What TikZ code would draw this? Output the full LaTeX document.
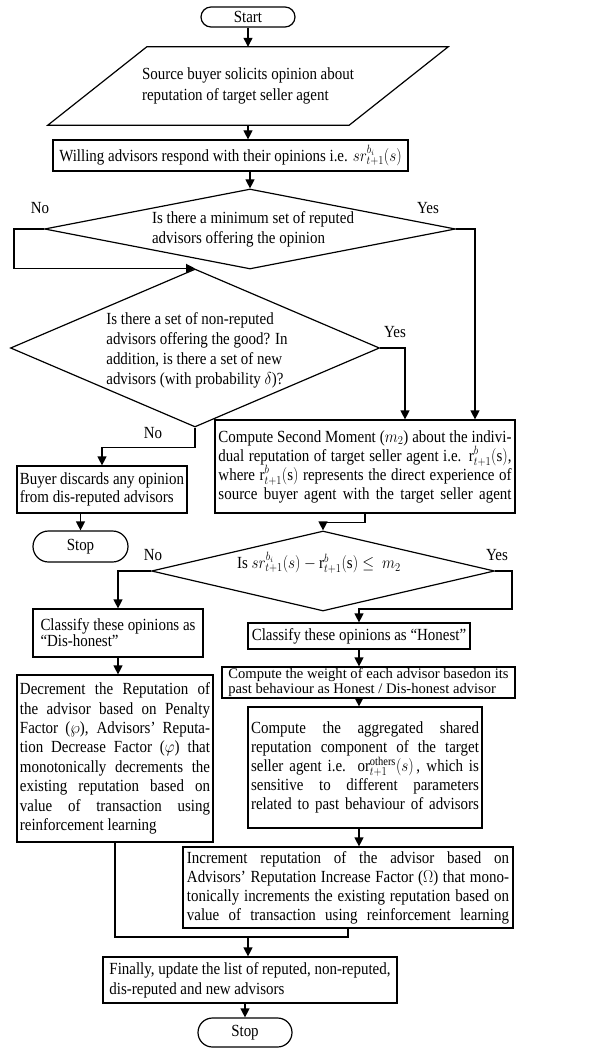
\documentclass[tikz,border=0pt]{standalone}
\usepackage{fontspec}
\setmainfont{Liberation Serif}
\usepackage{graphicx}
\usetikzlibrary{arrows.meta,shapes.geometric,shapes.misc,shadows}
\newcommand\XS{0.88}
\newcommand\sx[1]{\scalebox{\XS}[1]{#1}}
\newcommand\tx[2]{\scalebox{\XS}[1]{\vbox{\baselineskip=#1pt\lineskiplimit=-\maxdimen #2}}}
\newcommand\li[1]{\hbox{#1}}
\newcommand\jl[2]{\hbox to #1pt{#2}}
\begin{document}
\begin{tikzpicture}[x=1pt,y=-1pt,
  fc/.style={font=\fontsize{17}{19.5}\selectfont},
  box/.style={draw, line width=1.2pt, inner sep=0pt, fc, fill=white,
    drop shadow={shadow xshift=1.3pt, shadow yshift=-1.3pt, fill=black!50, opacity=1}},
  term/.style={draw, rounded rectangle, line width=1.2pt, inner sep=0pt, fc, fill=white},
  dia/.style={draw, diamond, line width=1.2pt, inner sep=0pt},
  lbl/.style={fc, inner sep=0pt},
  ln/.style={line width=1.2pt},
  arr/.style={line width=1.2pt, -{Triangle[length=9pt,width=9pt]}}]
\useasboundingbox (0,0) rectangle (610,1048);

% top
\node[term, minimum width=94pt, minimum height=20pt] (start) at (248,17) {\sx{Start}};
\node[lbl, minimum width=301pt, minimum height=78pt] (para) at (248,86)
  {\tx{21}{\li{Source buyer solicits opinion about}\li{reputation of target seller agent}}};
\draw[ln] ([xshift=49.5pt]para.north west) -- ([xshift=49.5pt]para.north east)
  -- ([xshift=-49.5pt]para.south east) -- ([xshift=-49.5pt]para.south west) -- cycle;
\node[box, minimum width=355pt, minimum height=31pt] (will) at (230.5,155.5)
  {\sx{Willing advisors respond with their opinions i.e. $sr^{b_i}_{t+1}(s)$}};

% decision 1
\node[dia, minimum width=411pt, minimum height=80pt] (d1) at (250,229) {};
\node[lbl] (d1t) at (253,229) {\tx{20}{\li{Is there a minimum set of reputed}\li{advisors offering the opinion}}};
\node[lbl] (no1) at (40,208) {\sx{No}};
\node[lbl] (yes1) at (428,208) {\sx{Yes}};

% decision 2
\node[dia, minimum width=369pt, minimum height=158pt] (d2) at (195,348) {};
\node[lbl] (d2t) at (197,350) {\tx{20}{\li{Is there a set of non-reputed}\li{advisors offering the good? In}\li{addition, is there a set of new}\li{advisors (with probability $\delta$)?}}};
\node[lbl] (yes2) at (395,332) {\sx{Yes}};
\node[lbl] (no2) at (153,433) {\sx{No}};

% second row
\node[box, minimum width=170pt, minimum height=47pt] (buyer) at (102,489.5)
  {\tx{18}{\li{Buyer discards any opinion}\li{from dis-reputed advisors}}};
\node[box, minimum width=300pt, minimum height=93pt] (comp) at (365,466.5)
  {\tx{19}{\jl{333}{Compute Second Moment ($m_2$) about the indivi-}\jl{333}{dual reputation of target seller agent i.e. $\mathrm{r}^{b}_{t+1}(\mathrm{s})$,}\jl{333}{where $\mathrm{r}^{b}_{t+1}(\mathrm{s})$ represents the direct experience of}\jl{333}{source buyer agent with the target seller agent}}};
\node[term, minimum width=95pt, minimum height=31pt] (stop1) at (80.5,546.5) {\sx{Stop}};

% decision 3
\node[dia, minimum width=343pt, minimum height=80pt] (d3) at (323,571) {};
\node[lbl] (d3t) at (319,563) {\sx{Is $sr^{b_i}_{t+1}(s) - \mathrm{r}^{b}_{t+1}(\mathrm{s}) \le\ m_2$}};
\node[lbl] (no3) at (153,555) {\sx{No}};
\node[lbl] (yes3) at (497,555) {\sx{Yes}};

% left column
\node[box, minimum width=170pt, minimum height=48pt] (dish) at (118,633)
  {\tx{16}{\li{Classify these opinions as}\li{“Dis-honest”}}};
\node[box, minimum width=196pt, minimum height=167pt] (decr) at (115,758.5)
  {\tx{19.4}{\jl{216}{Decrement the Reputation of}\jl{216}{the advisor based on Penalty}\jl{216}{Factor ($\wp$), Advisors’ Reputa-}\jl{216}{tion Decrease Factor ($\varphi$) that}\jl{216}{monotonically decrements the}\jl{216}{existing reputation based on}\jl{216}{value of transaction using}\li{reinforcement learning}}};

% right column
\node[box, minimum width=222pt, minimum height=26pt] (honest) at (359,636)
  {\sx{Classify these opinions as “Honest”}};
\node[box, minimum width=293pt, minimum height=31pt, font=\fontsize{14.6}{14.5}\selectfont] (weight) at (368.5,682.5)
  {\vbox{\baselineskip=14.5pt\lineskiplimit=-\maxdimen\li{Compute the weight of each advisor basedon its}\li{past behaviour as Honest / Dis-honest advisor}}};
\node[box, minimum width=234pt, minimum height=121pt] (agg) at (365,767.5)
  {\tx{19.2}{\jl{259}{Compute the aggregated shared}\jl{259}{reputation component of the target}\jl{259}{seller agent i.e. $\mathrm{or}^{\mathrm{others}}_{t+1}(s)$\,, which is}\jl{259}{sensitive to different parameters}\jl{259}{related to past behaviour of advisors}}};
\node[box, minimum width=330pt, minimum height=81pt] (incr) at (348,887.5)
  {\tx{19}{\jl{366}{Increment reputation of the advisor based on}\jl{366}{Advisors’ Reputation Increase Factor ($\Omega$) that mono-}\jl{366}{tonically increments the existing reputation based on}\jl{366}{value of transaction using reinforcement learning}}};

% bottom
\node[box, minimum width=294pt, minimum height=46pt] (fin) at (250,980)
  {\tx{20}{\li{Finally, update the list of reputed, non-reputed,}\li{dis-reputed and new advisors}}};
\node[term, minimum width=94pt, minimum height=29pt] (stop2) at (245,1032.5) {\sx{Stop}};

% helper coordinates
\coordinate (lx) at (14,0);
\coordinate (rx1) at (475,0);
\coordinate (rx2) at (405,0);
\coordinate (rx3) at (512,609);
\coordinate (mg) at (248,937);

% connectors
\draw[arr] (start.south) -- (start.south |- para.north);
\draw[arr] (para.south) -- (para.south |- will.north);
\draw[arr] (d1.north |- will.south) -- (d1.north);
\draw[arr] (d1.west) -- (d1.west -| lx) |- (d2.north);
\draw[arr] (d1.east) -| (rx1 |- comp.north);
\draw[arr] (d2.east) -| (rx2 |- comp.north);
\draw[arr] (d2.south) -- ++(0,20) -| (buyer.north);
\draw[arr] (stop1.north |- buyer.south) -- (stop1.north);
\draw[arr] (comp.south) -- ++(0,9) -| (d3.north);
\draw[arr] (d3.west) -| (dish.north);
\draw[arr] (d3.east) -| (rx3) -| (honest.north);
\draw[arr] (honest.south) -- (honest.south |- weight.north);
\draw[arr] (honest.south |- weight.south) -- (honest.south |- agg.north);
\draw[arr] (honest.south |- agg.south) -- (honest.south |- incr.north);
\draw[arr] (dish.south) -- (dish.south |- decr.north);
\draw[ln] (decr.south) |- (mg);
\draw[ln] (incr.south) |- (mg);
\draw[arr] (mg) -- (mg |- fin.north);
\draw[arr] (stop2.north |- fin.south) -- (stop2.north);
\end{tikzpicture}
\end{document}
